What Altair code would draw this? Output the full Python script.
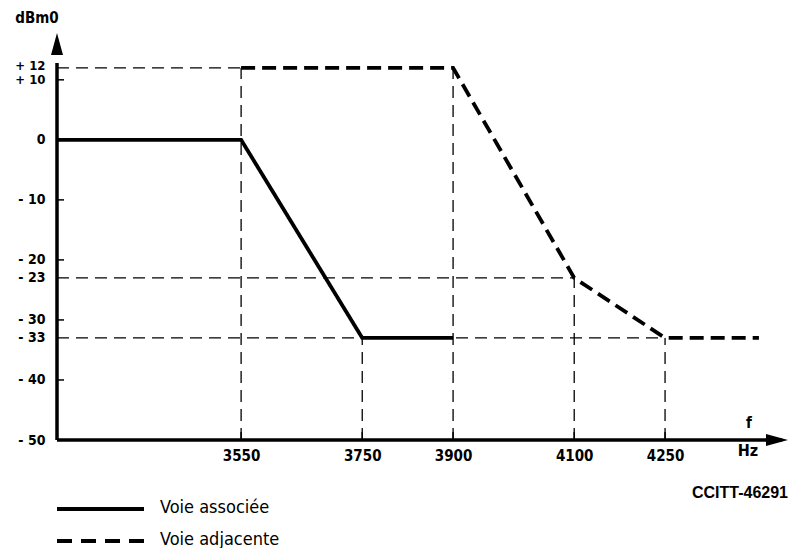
import altair as alt
import pandas as pd

# ---- data ----
x_ticks = [3550, 3750, 3900, 4100, 4250]
y_ticks = [12, 10, 0, -10, -20, -23, -30, -33, -40, -50]
y_tick_labels = ["+ 12", "+ 10", "0", "- 10", "- 20", "- 23", "- 30", "- 33", "- 40", "- 50"]
y_inner_ticks = [10, -10, -20, -30, -40]

series_names = ["Voie associée", "Voie adjacente"]
assoc_f = [3246, 3550, 3750, 3900]
assoc_db = [0, 0, -33, -33]
adj_f = [3550, 3900, 4100, 4250, 4405]
adj_db = [12, 12, -23, -33, -33]

h_guide_db = [12, -23, -33]
h_guide_end = [3550, 4100, 4250]
v_guide_f = [3550, 3750, 3900, 4100, 4250]
v_guide_top = [12, -33, 12, -23, -33]

XMIN, XMAX = 3246, 4453
YMIN, YMAX = -50, 17.8
W, H = 731, 407

FONT = "Liberation Sans Narrow, DejaVu Sans Condensed, Liberation Sans, sans-serif"
FONT2 = "Liberation Sans, Arial, sans-serif"

xs = alt.Scale(domain=[XMIN, XMAX], nice=False, zero=False)
ys = alt.Scale(domain=[YMIN, YMAX], nice=False, zero=False)

label_expr = " : ".join(
    f"datum.value == {v} ? '{t}'" for v, t in zip(y_ticks, y_tick_labels)
) + " : ''"

y_axis = alt.Axis(values=y_ticks, labelExpr=label_expr, domain=False, ticks=False,
                  grid=False, title=None, labelFont=FONT,
                  labelFontSize={"condition": {"test": "datum.value >= 10", "value": 13},
                                 "value": 14},
                  labelFontWeight="bold", labelPadding=12, labelOverlap=False,
                  labelFlush=False, labelBound=False, labelColor="black",
                  labelOffset={"condition": {"test": "datum.value == 12", "value": -2},
                               "value": 0})
x_axis = alt.Axis(values=x_ticks, format="d", domain=False, ticks=False, grid=False,
                  title=None, labelFont=FONT, labelFontSize=15, labelFontWeight="bold",
                  labelPadding=8, labelOverlap=False, labelFlush=False,
                  labelBound=False, labelColor="black")


def X(field):
    return alt.X(field, scale=xs, axis=x_axis, title=None)


def Y(field):
    return alt.Y(field, scale=ys, axis=y_axis, title=None)


# guides
hg = pd.DataFrame({"x": [XMIN] * len(h_guide_db), "x2": h_guide_end,
                   "y": h_guide_db, "y2": h_guide_db})
vg = pd.DataFrame({"x": v_guide_f, "x2": v_guide_f,
                   "y": [YMIN] * len(v_guide_f), "y2": v_guide_top})
guides_df = pd.concat([hg, vg], ignore_index=True)

guides = alt.Chart(guides_df).mark_rule(color="black", strokeWidth=1.3,
                                        strokeDash=[12, 7]).encode(
    x=X("x:Q"), x2="x2:Q", y=Y("y:Q"), y2="y2:Q")

# curves
curves_df = pd.concat([
    pd.DataFrame({"x": assoc_f, "y": assoc_db, "s": series_names[0],
                  "o": range(len(assoc_f))}),
    pd.DataFrame({"x": adj_f, "y": adj_db, "s": series_names[1],
                  "o": range(len(adj_f))}),
], ignore_index=True)

curves = alt.Chart(curves_df).mark_line(color="black", strokeWidth=3.8,
                                        strokeCap="butt").encode(
    x=X("x:Q"), y=Y("y:Q"),
    strokeDash=alt.StrokeDash("s:N", scale=alt.Scale(domain=series_names,
                                                     range=[[1, 0], [14, 7]]),
                              legend=None),
    order="o:Q",
)

# axes lines
ax_df = pd.DataFrame({"x": [XMIN, XMIN], "x2": [XMIN, XMAX - 10],
                      "y": [YMIN, YMIN], "y2": [YMAX - 5, YMIN]})
axes = alt.Chart(ax_df).mark_rule(color="black", strokeWidth=3.5).encode(
    x=X("x:Q"), x2="x2:Q", y=Y("y:Q"), y2="y2:Q")

up_arrow = alt.Chart(pd.DataFrame({"x": [XMIN], "y": [YMAX]})).mark_point(
    shape="M0,0L-0.6,2.2L0.6,2.2Z", size=400, filled=True, color="black",
    opacity=1).encode(x=X("x:Q"), y=Y("y:Q"))
right_arrow = alt.Chart(pd.DataFrame({"x": [XMAX], "y": [YMIN]})).mark_point(
    shape="M0,0L-2.2,-0.6L-2.2,0.6Z", size=400, filled=True, color="black",
    opacity=1).encode(x=X("x:Q"), y=Y("y:Q"))

# inward ticks
yt = alt.Chart(pd.DataFrame({"y": y_inner_ticks})).mark_rule(
    color="black", strokeWidth=1.5).encode(
    y=Y("y:Q"), x=alt.value(0), x2=alt.value(7))
xt = alt.Chart(pd.DataFrame({"x": x_ticks})).mark_rule(
    color="black", strokeWidth=1.5).encode(
    x=X("x:Q"), y=alt.value(H), y2=alt.value(H - 8))

# annotations
def txt(t, x, y, size, weight="bold", font=FONT, align="center"):
    return alt.Chart(pd.DataFrame({"t": [t]})).mark_text(
        font=font, fontSize=size, fontWeight=weight, color="black",
        align=align, baseline="middle").encode(
        text="t:N", x=alt.value(x), y=alt.value(y))

ann = [
    txt("dBm0", -20, -15, 15),
    txt("f", 692, 390, 15),
    txt("Hz", 691, 418, 16),
    txt("CCITT-46291", 731, 460, 16, font=FONT2, align="right"),
    txt(series_names[0], 103, 475, 18, weight="normal", align="left"),
    txt(series_names[1], 103, 507, 18, weight="normal", align="left"),
]

leg1 = alt.Chart(pd.DataFrame({"s": [series_names[0]]})).mark_rule(
    color="black", strokeWidth=4).encode(
    x=alt.value(0), x2=alt.value(87), y=alt.value(476), y2=alt.value(476))
leg2 = alt.Chart(pd.DataFrame({"s": [series_names[1]]})).mark_rule(
    color="black", strokeWidth=4, strokeDash=[15, 9]).encode(
    x=alt.value(0), x2=alt.value(87), y=alt.value(508), y2=alt.value(508))

chart = alt.layer(guides, curves, axes, up_arrow, right_arrow, yt, xt,
                  leg1, leg2, *ann).properties(
    width=W, height=H,
    padding={"left": 49, "top": 25, "right": 0, "bottom": 108},
    autosize=alt.AutoSizeParams(type="none"),
).configure_view(stroke=None)

chart.save("out.html", embed_options={"renderer": "svg", "actions": False})
